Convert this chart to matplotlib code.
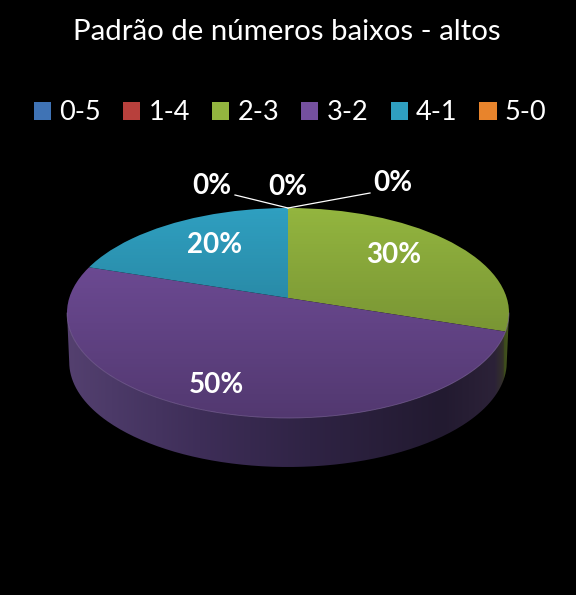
import numpy as np
import matplotlib
matplotlib.use("Agg")
import matplotlib.pyplot as plt
from matplotlib.patches import Circle, PathPatch
from matplotlib.path import Path
from matplotlib.colors import LinearSegmentedColormap

plt.rcParams['font.family'] = ['Lato', 'DejaVu Sans']

TITLE = "Padrão de números baixos - altos"
categories = ["0-5", "1-4", "2-3", "3-2", "4-1", "5-0"]
values = [0, 0, 30, 50, 20, 0]
colors = ["#3f73b5", "#b8403c", "#93b53f", "#75509f", "#2f9fc0", "#e8842c"]

W, H = 576, 595
RX, RY = 221.0, 105.0      # pixel size of one data unit
AX, AY = 288.0, 298.0      # pixel position of the pie's apex
TOP_CY = 313.0             # pixel centre of the top ellipse
DEPTH = 49.0


def px(x, y):
    return (x - AX) / RX, (AY - y) / RY


fig = plt.figure(figsize=(W / 100, H / 100), dpi=100, facecolor="black")
ax = fig.add_axes([0, 0, 1, 1], facecolor="black")

wedges, _ = ax.pie(values, colors=colors, startangle=90, counterclock=False,
                   radius=3, center=(0, 0), wedgeprops=dict(linewidth=0))
ax.set_aspect("auto")

xlim = (px(0, 0)[0], px(W, 0)[0])
ylim = (px(0, H)[1], px(0, 0)[1])

# Top face: the wedges clipped to an ellipse whose centre is below the apex
top = Circle(px(AX, TOP_CY), 1.0, transform=ax.transData, fc="none", ec="none")
ax.add_patch(top)
for w in wedges:
    w.set_clip_on(True)
    w.set_clip_path(top)
    w.set_zorder(3)

# Top-face shading
shade = np.zeros((256, 2, 4))
shade[..., 3] = np.linspace(0, 0.3, 256)[:, None]
x0, y_top = px(AX - RX, 208)
x1, y_bot = px(AX + RX, 418)
im = ax.imshow(shade, extent=(x0, x1, y_bot, y_top), aspect="auto", zorder=4,
               origin="upper", interpolation="bilinear")
im.set_clip_path(top)

# Side wall
t = np.linspace(np.pi, 2 * np.pi, 200)
cy = px(AX, TOP_CY)[1]
bot_rx = 0.99
upper = np.column_stack([np.cos(t), cy + np.sin(t)])
lower = np.column_stack([bot_rx * np.cos(t), cy - DEPTH / RY + np.sin(t)])
verts = np.vstack([upper, lower[::-1], upper[:1]])
side_path = Path(verts)

side_cmap = LinearSegmentedColormap.from_list(
    "side", [(0, "#54406f"), (0.10, "#4c3a68"), (0.30, "#3e2e58"),
             (0.55, "#2f2344"), (0.85, "#221a30"), (0.97, "#2c2238"),
             (0.988, "#33302a"), (0.992, "#3c4a1c"), (1, "#46571f")])
grad = np.linspace(0, 1, 512)[None, :]
side = ax.imshow(grad, cmap=side_cmap, extent=(-1.0, 1.0, cy - 1.7, cy), aspect="auto",
                 zorder=2, interpolation="bilinear")
patch = PathPatch(side_path, transform=ax.transData, fc="none", ec="none")
ax.add_patch(patch)
side.set_clip_path(patch)

# Faint highlight where the top face meets the wall
ax.plot(upper[:, 0], upper[:, 1], color="#8a72a8", lw=0.6, alpha=0.6, zorder=5)

# Leader lines of the empty slices
for p0, p1 in [((235, 195), (288, 208)), ((370, 193), (288, 208))]:
    a, b = px(*p0), px(*p1)
    ax.plot([a[0], b[0]], [a[1], b[1]], color="white", lw=0.9, zorder=6)

# Value labels
label_pos = [(288, 187), (393, 183), (394, 255), (216, 385), (215, 245), (212, 186)]
for v, pos in zip(values, label_pos):
    xx, yy = px(*pos)
    ax.text(xx, yy, f"{v}%", color="white", fontsize=20, fontweight="bold",
            ha="center", va="center", zorder=7)

ax.set_xlim(xlim)
ax.set_ylim(ylim)
ax.axis("off")

ax.text(0.4985, 1 - 31.5 / H, TITLE, transform=ax.transAxes, color="white",
        fontsize=21.2, ha="center", va="center")

leg = ax.legend(wedges, categories, ncol=6, loc="center", frameon=False,
                bbox_to_anchor=(0.504, 1 - 113 / H), fontsize=19.5, labelcolor="white",
                handlelength=0.63, handleheight=0.63, handletextpad=0.3,
                columnspacing=0.82, borderpad=0)
for h in leg.legend_handles:
    h.set_clip_on(False)
    h.set_clip_path(None)
    h.set_edgecolor("none")

fig.savefig("out.png", dpi=100, facecolor="black")
